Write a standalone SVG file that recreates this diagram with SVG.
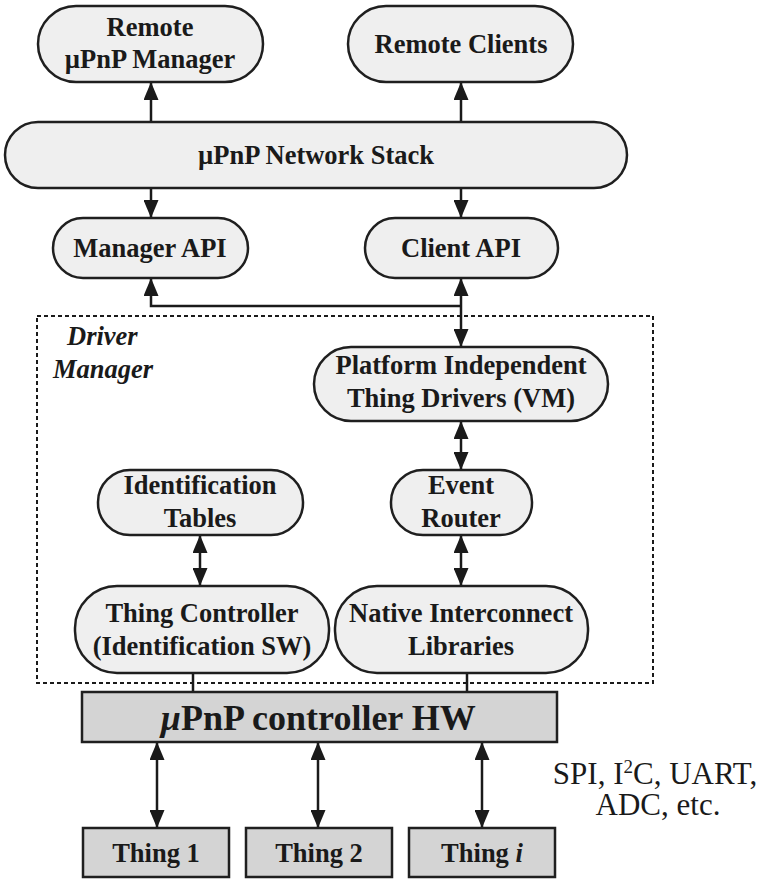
<svg xmlns="http://www.w3.org/2000/svg" width="763" height="879" viewBox="0 0 763 879">
  <defs>
    <marker id="arrow" markerUnits="userSpaceOnUse" markerWidth="18" markerHeight="15" refX="18" refY="7.5" orient="auto-start-reverse">
      <path d="M0,0 L18,7.5 L0,15 z" fill="#1a1a1a"/>
    </marker>
    <style>
      .pill { fill: #efefef; stroke: #1f1f1f; stroke-width: 2.5; }
      .hw { fill: #d4d4d4; stroke: #1f1f1f; stroke-width: 2.5; }
      .lbl { font-family: "Liberation Serif", "Times New Roman", serif; font-weight: bold; font-size: 26.5px; fill: #1a1a1a; text-anchor: middle; }
      .big { font-size: 36px; }
      .title { font-family: "Liberation Serif", "Times New Roman", serif; font-weight: bold; font-style: italic; font-size: 26.5px; fill: #1a1a1a; }
      .bus { font-family: "Liberation Serif", "Times New Roman", serif; font-size: 31px; fill: #1a1a1a; text-anchor: middle; }
      .wire { stroke: #1a1a1a; stroke-width: 2.5; fill: none; }
      .one { marker-end: url(#arrow); }
      .two { marker-start: url(#arrow); marker-end: url(#arrow); }
      .frame { fill: none; stroke: #1a1a1a; stroke-width: 2; stroke-dasharray: 4 3; }
    </style>
  </defs>
  <rect width="763" height="879" fill="#ffffff"/>

  <!-- driver manager boundary -->
  <g id="driver-manager">
    <rect class="frame" x="37" y="316" width="616" height="367"/>
    <text class="title" x="67" y="345">Driver</text>
    <text class="title" x="53" y="378">Manager</text>
  </g>

  <!-- connectors -->
  <g id="connectors">
    <line class="wire one" x1="151" y1="122" x2="151" y2="82"/>
    <line class="wire one" x1="461" y1="122" x2="461" y2="82"/>
    <line class="wire one" x1="151" y1="188" x2="151" y2="218"/>
    <line class="wire one" x1="461" y1="188" x2="461" y2="218"/>
    <polyline class="wire one" points="461,306 151,306 151,278"/>
    <line class="wire two" x1="461" y1="278" x2="461" y2="347"/>
    <line class="wire two" x1="461" y1="421" x2="461" y2="470"/>
    <line class="wire two" x1="461" y1="535" x2="461" y2="586"/>
    <line class="wire two" x1="200" y1="535" x2="200" y2="586"/>
    <line class="wire" x1="193" y1="673" x2="193" y2="692"/>
    <line class="wire" x1="467" y1="673" x2="467" y2="692"/>
    <line class="wire two" x1="157" y1="742" x2="157" y2="828"/>
    <line class="wire two" x1="318" y1="742" x2="318" y2="828"/>
    <line class="wire two" x1="482" y1="742" x2="482" y2="828"/>
  </g>

  <g id="remote-manager">
    <rect class="pill" x="38" y="6" width="225" height="76" rx="38" ry="38"/>
    <text class="lbl" x="150" y="36">Remote</text>
    <text class="lbl" x="150" y="68">µPnP Manager</text>
  </g>

  <g id="remote-clients">
    <rect class="pill" x="348" y="6" width="225" height="76" rx="38" ry="38"/>
    <text class="lbl" x="461" y="53">Remote Clients</text>
  </g>

  <g id="network-stack">
    <rect class="pill" x="5" y="122" width="622" height="66" rx="33" ry="33"/>
    <text class="lbl" x="316" y="164">µPnP Network Stack</text>
  </g>

  <g id="manager-api">
    <rect class="pill" x="53" y="218" width="195" height="60" rx="30" ry="30"/>
    <text class="lbl" x="150" y="257">Manager API</text>
  </g>

  <g id="client-api">
    <rect class="pill" x="365" y="218" width="193" height="60" rx="30" ry="30"/>
    <text class="lbl" x="461" y="257">Client API</text>
  </g>

  <g id="thing-drivers">
    <rect class="pill" x="314" y="347" width="294" height="74" rx="37" ry="37"/>
    <text class="lbl" x="461" y="374">Platform Independent</text>
    <text class="lbl" x="461" y="407">Thing Drivers (VM)</text>
  </g>

  <g id="identification-tables">
    <rect class="pill" x="98" y="470" width="205" height="65" rx="32" ry="32"/>
    <text class="lbl" x="200" y="494">Identification</text>
    <text class="lbl" x="200" y="527">Tables</text>
  </g>

  <g id="event-router">
    <rect class="pill" x="391" y="470" width="141" height="65" rx="32" ry="32"/>
    <text class="lbl" x="461" y="494">Event</text>
    <text class="lbl" x="461" y="527">Router</text>
  </g>

  <g id="thing-controller">
    <rect class="pill" x="75" y="586" width="254" height="87" rx="42" ry="42"/>
    <text class="lbl" x="202" y="622">Thing Controller</text>
    <text class="lbl" x="202" y="655">(Identification SW)</text>
  </g>

  <g id="native-libraries">
    <rect class="pill" x="335" y="586" width="253" height="87" rx="42" ry="42"/>
    <text class="lbl" x="461" y="622">Native Interconnect</text>
    <text class="lbl" x="461" y="655">Libraries</text>
  </g>

  <g id="controller-hw">
    <rect class="hw" x="82" y="692" width="475" height="50"/>
    <text class="lbl big" x="318" y="730"><tspan font-style="italic">µ</tspan>PnP controller HW</text>
  </g>

  <g id="thing-1">
    <rect class="hw" x="83" y="828" width="146" height="49"/>
    <text class="lbl" x="156" y="862">Thing 1</text>
  </g>

  <g id="thing-2">
    <rect class="hw" x="246" y="828" width="146" height="49"/>
    <text class="lbl" x="319" y="862">Thing 2</text>
  </g>

  <g id="thing-i">
    <rect class="hw" x="409" y="828" width="146" height="49"/>
    <text class="lbl" x="482" y="862">Thing <tspan font-style="italic">i</tspan></text>
  </g>

  <g id="bus-note">
    <text class="bus" x="655" y="784">SPI, I<tspan dy="-11" font-size="19">2</tspan><tspan dy="11">C, UART,</tspan></text>
    <text class="bus" x="658" y="815">ADC, etc.</text>
  </g>
</svg>
